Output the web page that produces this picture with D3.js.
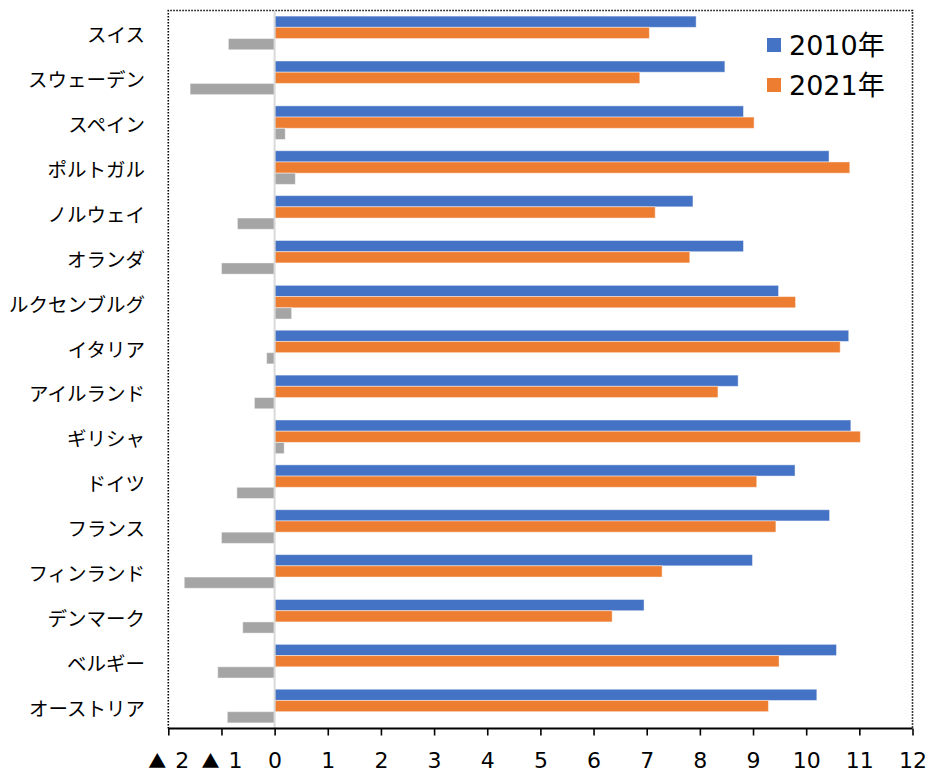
<!DOCTYPE html>
<html>
<head>
<meta charset="utf-8">
<script src="https://cdn.jsdelivr.net/npm/d3@7"></script>
<style>
  html, body { margin: 0; padding: 0; background: #fff; }
  svg { display: block; }
</style>
</head>
<body>
<svg id="chart" width="931" height="775"></svg>
<script>
// Countries, top to bottom
const categories = [
  "スイス", "スウェーデン", "スペイン", "ポルトガル", "ノルウェイ", "オランダ",
  "ルクセンブルグ", "イタリア", "アイルランド", "ギリシャ", "ドイツ", "フランス",
  "フィンランド", "デンマーク", "ベルギー", "オーストリア"
];
const values2010 = [7.93, 8.47, 8.82, 10.43, 7.87, 8.82, 9.48, 10.80, 8.72, 10.84, 9.79, 10.44, 8.99, 6.95, 10.57, 10.20];
const values2021 = [7.05, 6.87, 9.02, 10.82, 7.16, 7.81, 9.80, 10.64, 8.34, 11.02, 9.07, 9.43, 7.29, 6.35, 9.49, 9.29];
const valuesChange = [-0.87, -1.59, 0.20, 0.39, -0.70, -1.00, 0.32, -0.15, -0.38, 0.18, -0.71, -1.00, -1.70, -0.60, -1.07, -0.89];
const seriesNames = ["2010年", "2021年", "変化"];
const seriesColors = ["#4472C4", "#ED7D31", "#A5A5A5"];
const tickValues = [-2, -1, 0, 1, 2, 3, 4, 5, 6, 7, 8, 9, 10, 11, 12];

const rows = categories.map((c, i) => ({
  name: c,
  vals: [values2010[i], values2021[i], valuesChange[i]]
}));

const svg = d3.select("#chart");
const plotLeft = 168.3, plotRight = 912.5, plotTop = 10.5, plotBottom = 728.5;

const x = d3.scaleLinear().domain([-2, 12]).range([plotLeft, plotRight]);
const y = d3.scaleBand().domain(categories).range([plotTop, plotBottom]).padding(0);
const ySub = d3.scaleBand().domain([0, 1, 2]).range([0, y.bandwidth()])
  .paddingInner(0).paddingOuter(0.5);

// Dotted frame on top, left and right
svg.append("path")
  .attr("d", `M${plotLeft},${plotBottom} V${plotTop} H${plotRight} V${plotBottom}`)
  .attr("fill", "none")
  .attr("stroke", "#000")
  .attr("stroke-width", 1.6)
  .attr("stroke-dasharray", "1.5,1.5");

// Bars
const groups = svg.append("g").selectAll("g.row")
  .data(rows).join("g")
  .attr("class", "row")
  .attr("transform", d => `translate(0,${y(d.name)})`);

groups.selectAll("rect")
  .data(d => d.vals.map((v, k) => ({ v, k })))
  .join("rect")
  .attr("x", d => Math.min(x(0), x(d.v)))
  .attr("width", d => Math.abs(x(d.v) - x(0)))
  .attr("y", d => ySub(d.k))
  .attr("height", ySub.bandwidth())
  .attr("fill", d => seriesColors[d.k])
  .attr("stroke", "rgba(255,255,255,0.45)")
  .attr("stroke-width", 1);

// Zero line
svg.append("line")
  .attr("x1", x(0)).attr("x2", x(0))
  .attr("y1", plotTop).attr("y2", plotBottom)
  .attr("stroke", "#d9d9d9")
  .attr("stroke-width", 2);

// Category labels, centred on each group
svg.append("g").selectAll("text")
  .data(categories).join("text")
  .attr("x", 145)
  .attr("y", d => y(d) + y.bandwidth() / 2 + 1)
  .attr("text-anchor", "end")
  .attr("dominant-baseline", "central")
  .attr("font-family", "'Noto Sans CJK JP', sans-serif")
  .attr("font-size", 19.5)
  .attr("fill", "#000")
  .text(d => d);

// X axis
const xAxis = d3.axisBottom(x)
  .tickValues(tickValues)
  .tickSize(7)
  .tickPadding(17)
  .tickFormat(d => String(Math.abs(d)));

const ax = svg.append("g")
  .attr("transform", `translate(0,${plotBottom})`)
  .call(xAxis);
ax.select(".domain").attr("stroke", "#000").attr("stroke-width", 2)
  .attr("d", `M${plotLeft},0H${plotRight}`);
ax.selectAll(".tick line").attr("stroke", "#000").attr("stroke-width", 1.6);
ax.selectAll(".tick text")
  .attr("font-family", "'DejaVu Sans', Verdana, sans-serif")
  .attr("font-size", 22)
  .attr("fill", "#000");

// Negative ticks are written with a leading ▲ instead of a minus sign
ax.selectAll(".tick text")
  .filter(d => d < 0)
  .text(null)
  .call(t => {
    t.append("tspan")
      .attr("font-family", "'Noto Sans CJK JP', sans-serif")
      .attr("font-size", 18)
      .text("▲");
    t.append("tspan")
      .attr("dx", 9)
      .text(d => Math.abs(d));
  });

// Legend
const legend = svg.append("g");
const legendItems = [0, 1];
legend.selectAll("rect")
  .data(legendItems).join("rect")
  .attr("x", 767)
  .attr("y", d => 38 + d * 40)
  .attr("width", 14)
  .attr("height", 14)
  .attr("fill", d => seriesColors[d]);
legend.selectAll("text")
  .data(legendItems).join("text")
  .attr("x", 789)
  .attr("y", d => 55 + d * 40)
  .attr("font-family", "'DejaVu Sans', Verdana, 'Noto Sans CJK JP', sans-serif")
  .attr("font-size", 27)
  .attr("fill", "#000")
  .text(d => seriesNames[d]);
</script>
</body>
</html>
